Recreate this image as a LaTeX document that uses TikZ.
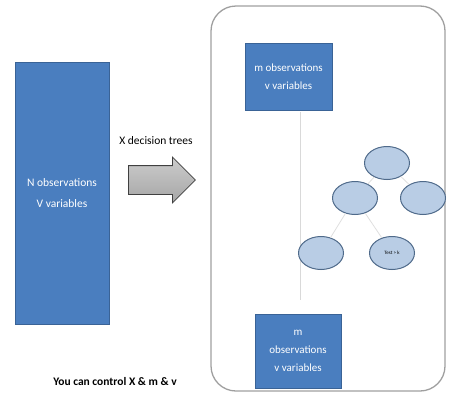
\documentclass[tikz,border=0pt]{standalone}
\usepackage{fontspec}
\setmainfont{Carlito}
\usetikzlibrary{shapes.geometric,shapes.arrows}
\definecolor{boxblue}{HTML}{4A7EBF}
\definecolor{boxedge}{HTML}{3A6396}
\definecolor{leafblue}{HTML}{B9CDE5}
\definecolor{leafedge}{HTML}{4F6A8A}
\tikzset{
  block/.style={draw=boxedge, fill=boxblue, text=white, align=center, font=\fontsize{11}{18}\selectfont},
  treenode/.style={ellipse, draw=leafedge, line width=1pt, fill=leafblue, minimum width=45pt, minimum height=33pt, inner sep=0pt, font=\fontsize{5}{6}\selectfont},
  branch/.style={gray!25, line width=0.8pt},
}
\begin{document}
\begin{tikzpicture}[x=1pt,y=-1pt]
  \useasboundingbox (0,0) rectangle (452,402);
  % frame round the sample
  \draw[gray!75, line width=1.3pt, rounded corners=25pt] (211,6) rectangle (445,391);
  % blue blocks
  \node[block, minimum width=94pt, minimum height=262pt, font=\fontsize{11.5}{21}\selectfont] (full) at (62,193) {N observations\\V variables};
  \node[block, minimum width=87pt, minimum height=67pt] (sample) at (288.5,76.5) {m observations\\v variables};
  \node[block, minimum width=86pt, minimum height=74pt] (subset) at (298,351) {m\\observations\\v variables};
  % arrow and its label
  \node[font=\fontsize{11.5}{13}\selectfont] (label) at (156,141) {X decision trees};
  \node[single arrow, draw=black!75, top color=gray!40, bottom color=gray!70, line width=0.8pt,
        minimum height=67pt, inner xsep=0pt, inner ysep=14pt, single arrow head extend=8.5pt,
        anchor=tail] (arr) at (128,180) {};
  % stem of the tree
  \coordinate (stemtop) at (300,112);
  \coordinate (stembot) at (300,300);
  \draw[gray!30, line width=0.8pt] (stemtop) -- (stembot);
  % decision tree
  \node[treenode] (root) at (387,163) {};
  \node[treenode] (left) at (355,198) {};
  \node[treenode] (right) at (423,198) {};
  \node[treenode] (leafa) at (321,253) {};
  \node[treenode] (leafb) at (392,253) {Test > k};
  \draw[branch] (root) -- (left);
  \draw[branch] (root) -- (right);
  \draw[branch] (left) -- (leafa);
  \draw[branch] (left) -- (leafb);
  % note
  \node[font=\bfseries\fontsize{11.5}{12}\selectfont] (note) at (115,381) {You can control X \& m \& v};
\end{tikzpicture}
\end{document}
